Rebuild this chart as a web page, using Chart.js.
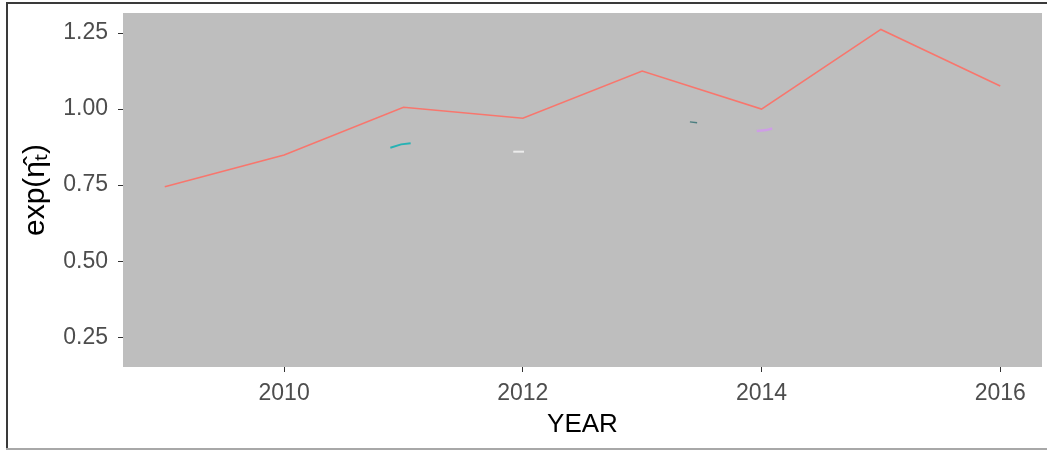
<!DOCTYPE html>
<html>
<head>
<meta charset="utf-8">
<script src="https://cdn.jsdelivr.net/npm/chart.js@4"></script>
<style>
  html, body { margin: 0; padding: 0; background: #fff; }
  #wrap { width: 1047px; height: 450px; position: relative; }
</style>
</head>
<body>
<div id="wrap"><canvas id="c"></canvas></div>
<script>
// values
const years = [2009, 2010, 2011, 2012, 2013, 2014, 2015, 2016];
const etaHat = [0.745, 0.849, 1.006, 0.970, 1.125, 1.000, 1.262, 1.076];

// tiny fragments of other series that peek out behind the red line
const tealX = [2010.89, 2010.98, 2011.06];
const tealY = [0.873, 0.884, 0.888];
const whiteX = [2011.92, 2012.01];
const whiteY = [0.860, 0.860];
const darkX = [2013.40, 2013.46];
const darkY = [0.958, 0.955];
const purpleX = [2013.96, 2014.04, 2014.09];
const purpleY = [0.928, 0.931, 0.936];

const xTicks = [2010, 2012, 2014, 2016];
const yTicks = [0.25, 0.50, 0.75, 1.00, 1.25];

const tickFont = { family: "'Liberation Sans', Arial, sans-serif", size: 23 };
const titleFont = { family: "'Liberation Sans', Arial, sans-serif", size: 26 };

const pts = (xs, ys) => xs.map((x, i) => ({ x, y: ys[i] }));

const dsLine = (label, data, color, width) => ({
  label, data,
  borderColor: color,
  borderWidth: width,
  pointRadius: 0,
  tension: 0,
  fill: false
});

const frame = {
  id: 'frame',
  beforeDraw(chart) {
    const { ctx, chartArea: a } = chart;
    ctx.save();
    ctx.fillStyle = '#BEBEBE';
    ctx.fillRect(a.left, a.top, a.right - a.left, a.bottom - a.top);
    ctx.fillStyle = '#3a3a3a';
    ctx.fillRect(6, 2, 1041, 2);
    ctx.fillRect(6, 2, 2, 448);
    ctx.fillStyle = '#a8a8a8';
    ctx.fillRect(6, 448, 1041, 2);
    ctx.restore();
  }
};

new Chart(document.getElementById('c'), {
  type: 'line',
  data: {
    datasets: [
      dsLine('teal', pts(tealX, tealY), 'rgba(0,175,178,0.8)', 2),
      dsLine('white', pts(whiteX, whiteY), 'rgba(245,245,245,0.85)', 2),
      dsLine('dark', pts(darkX, darkY), 'rgba(46,110,112,0.8)', 1.5),
      dsLine('purple', pts(purpleX, purpleY), 'rgba(210,150,240,0.8)', 2.5),
      dsLine('eta', pts(years, etaHat), '#F8766D', 1.6)
    ]
  },
  options: {
    responsive: true,
    maintainAspectRatio: false,
    animation: false,
    layout: { padding: { left: 8, top: 13, right: 5, bottom: 0 } },
    plugins: { legend: { display: false }, tooltip: { enabled: false } },
    scales: {
      x: {
        type: 'linear',
        min: 2008.65,
        max: 2016.35,
        afterBuildTicks: (s) => { s.ticks = xTicks.map(v => ({ value: v })); },
        afterFit: (s) => { s.height = 83; s.paddingLeft = 0; s.paddingRight = 0; },
        ticks: {
          color: '#4D4D4D',
          font: tickFont,
          padding: 8,
          maxRotation: 0,
          callback: (v) => String(v)
        },
        grid: { drawOnChartArea: false, drawTicks: true, tickLength: 5, tickColor: '#333333', tickWidth: 1 },
        border: { display: false },
        title: { display: true, text: 'YEAR', color: '#000', font: titleFont, padding: { top: 0, bottom: 10 } }
      },
      y: {
        min: 0.152,
        max: 1.316,
        afterBuildTicks: (s) => { s.ticks = yTicks.map(v => ({ value: v })); },
        afterFit: (s) => { s.width = 115; s.paddingTop = 0; s.paddingBottom = 0; },
        ticks: {
          color: '#4D4D4D',
          font: tickFont,
          padding: 10,
          callback: (v) => Number(v).toFixed(2)
        },
        grid: { drawOnChartArea: false, drawTicks: true, tickLength: 5, tickColor: '#333333', tickWidth: 1 },
        border: { display: false },
        title: { display: true, text: 'exp(\u03B7\u0302\u209C)', color: '#000', font: { family: titleFont.family, size: 30 }, padding: { top: 10, bottom: 0 } }
      }
    }
  },
  plugins: [frame]
});
</script>
</body>
</html>
